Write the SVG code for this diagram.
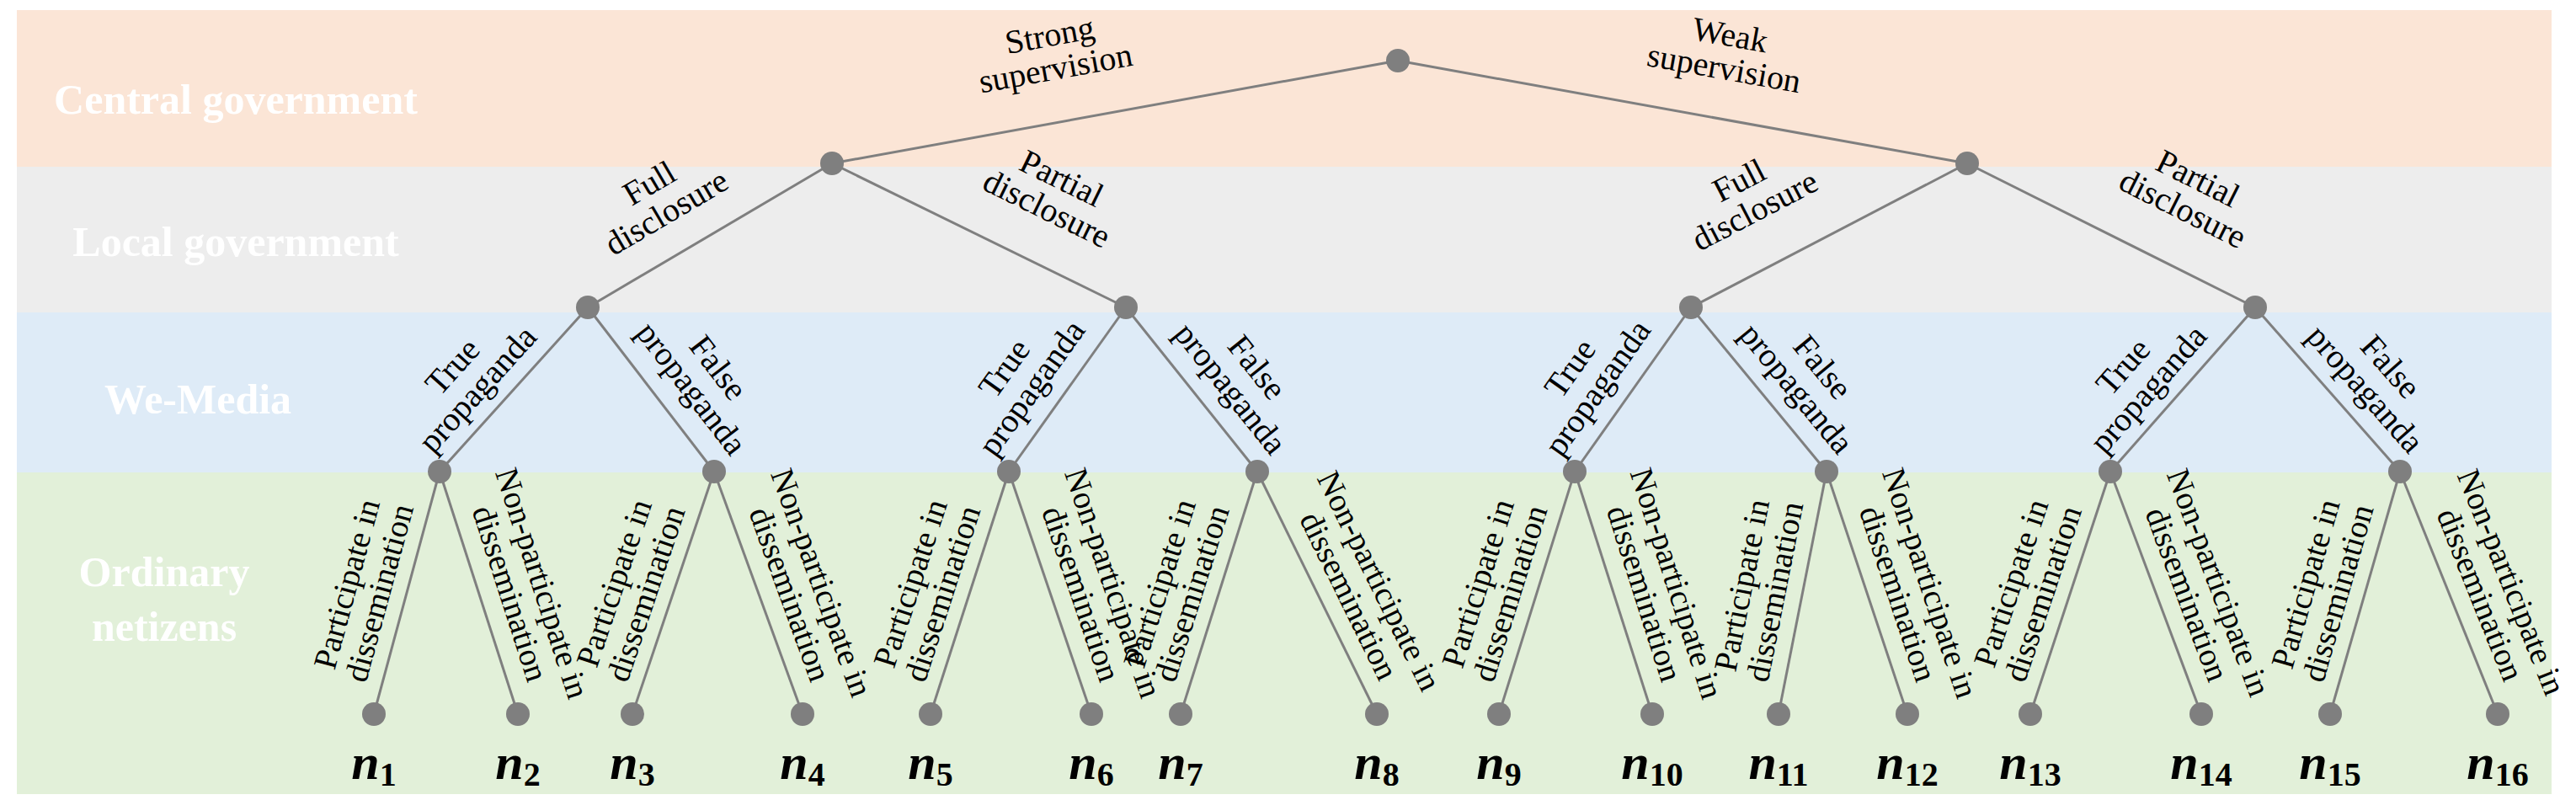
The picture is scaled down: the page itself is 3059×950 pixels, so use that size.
<svg xmlns="http://www.w3.org/2000/svg" width="3059" height="950" viewBox="0 0 3059 950" font-family="'Liberation Serif','Times New Roman','DejaVu Serif',serif">
<style>
text{font-family:'Liberation Serif','Times New Roman','DejaVu Serif',serif}
.band{font-weight:bold;font-size:50px;fill:#fff;text-anchor:middle}
.el{font-size:40px;fill:#000;text-anchor:middle}
.ll{font-size:39px;fill:#000;text-anchor:middle}
.nl{font-size:60px;font-weight:bold;font-style:italic;fill:#000;text-anchor:middle}
.nl tspan{font-size:40px;font-style:normal}
line{stroke:#7f7f7f;stroke-width:3}
circle{fill:#7f7f7f}
</style>
<rect width="3059" height="950" fill="#fff"/>
<g id="bands">
<rect x="20" y="12" width="3010" height="186" fill="#FBE5D6"/>
<rect x="20" y="198" width="3010" height="173" fill="#EDEDED"/>
<rect x="20" y="371" width="3010" height="190" fill="#DEEBF7"/>
<rect x="20" y="561" width="3010" height="382" fill="#E2F0D9"/>
<text class="band" x="280" y="135">Central government</text>
<text class="band" x="280" y="304">Local government</text>
<text class="band" x="235" y="491">We-Media</text>
<text class="band" x="195" y="696">Ordinary</text>
<text class="band" x="195" y="761">netizens</text>
</g>
<g id="connectors">
<line x1="1660" y1="72" x2="988" y2="194"/><line x1="1660" y1="72" x2="2336" y2="194"/>
<line x1="988" y1="194" x2="698" y2="365"/><line x1="988" y1="194" x2="1337" y2="365"/>
<line x1="2336" y1="194" x2="2008" y2="365"/><line x1="2336" y1="194" x2="2678" y2="365"/>
<line x1="698" y1="365" x2="522" y2="560"/><line x1="698" y1="365" x2="848" y2="560"/>
<line x1="1337" y1="365" x2="1198" y2="560"/><line x1="1337" y1="365" x2="1493" y2="560"/>
<line x1="2008" y1="365" x2="1870" y2="560"/><line x1="2008" y1="365" x2="2169" y2="560"/>
<line x1="2678" y1="365" x2="2506" y2="560"/><line x1="2678" y1="365" x2="2850" y2="560"/>
<line x1="522" y1="560" x2="444" y2="848"/><line x1="522" y1="560" x2="615" y2="848"/>
<line x1="848" y1="560" x2="751" y2="848"/><line x1="848" y1="560" x2="953" y2="848"/>
<line x1="1198" y1="560" x2="1105" y2="848"/><line x1="1198" y1="560" x2="1296" y2="848"/>
<line x1="1493" y1="560" x2="1402" y2="848"/><line x1="1493" y1="560" x2="1635" y2="848"/>
<line x1="1870" y1="560" x2="1780" y2="848"/><line x1="1870" y1="560" x2="1962" y2="848"/>
<line x1="2169" y1="560" x2="2112" y2="848"/><line x1="2169" y1="560" x2="2265" y2="848"/>
<line x1="2506" y1="560" x2="2411" y2="848"/><line x1="2506" y1="560" x2="2614" y2="848"/>
<line x1="2850" y1="560" x2="2767" y2="848"/><line x1="2850" y1="560" x2="2966" y2="848"/>
</g>
<g id="edge-labels">
<text class="el" transform="translate(1256,94) rotate(-10.3)"><tspan x="0" y="-40">Strong</tspan><tspan x="0" y="0">supervision</tspan></text>
<text class="el" transform="translate(2045,94) rotate(10.2)"><tspan x="0" y="-40">Weak</tspan><tspan x="0" y="0">supervision</tspan></text>
<text class="el" transform="translate(796,260) rotate(-30.5)"><tspan x="0" y="-36">Full</tspan><tspan x="0" y="4">disclosure</tspan></text>
<text class="el" transform="translate(1239,256) rotate(26.1)"><tspan x="0" y="-36">Partial</tspan><tspan x="0" y="4">disclosure</tspan></text>
<text class="el" transform="translate(2088,258) rotate(-27.5)"><tspan x="0" y="-36">Full</tspan><tspan x="0" y="4">disclosure</tspan></text>
<text class="el" transform="translate(2588,256) rotate(26.6)"><tspan x="0" y="-36">Partial</tspan><tspan x="0" y="4">disclosure</tspan></text>
<text class="el" transform="translate(556,452) rotate(-47.9)"><tspan x="0" y="-12">True</tspan><tspan x="0" y="28">propaganda</tspan></text>
<text class="el" transform="translate(833,452) rotate(52.4)"><tspan x="0" y="-12">False</tspan><tspan x="0" y="28">propaganda</tspan></text>
<text class="el" transform="translate(1213,452) rotate(-54.5)"><tspan x="0" y="-12">True</tspan><tspan x="0" y="28">propaganda</tspan></text>
<text class="el" transform="translate(1473,452) rotate(51.3)"><tspan x="0" y="-12">False</tspan><tspan x="0" y="28">propaganda</tspan></text>
<text class="el" transform="translate(1885,452) rotate(-54.7)"><tspan x="0" y="-12">True</tspan><tspan x="0" y="28">propaganda</tspan></text>
<text class="el" transform="translate(2145,452) rotate(50.5)"><tspan x="0" y="-12">False</tspan><tspan x="0" y="28">propaganda</tspan></text>
<text class="el" transform="translate(2540,452) rotate(-48.6)"><tspan x="0" y="-12">True</tspan><tspan x="0" y="28">propaganda</tspan></text>
<text class="el" transform="translate(2820,452) rotate(48.6)"><tspan x="0" y="-12">False</tspan><tspan x="0" y="28">propaganda</tspan></text>
</g>
<g id="leaf-labels">
<text class="ll" transform="translate(432,699) rotate(-74.8)"><tspan x="0" y="-8">Participate in</tspan><tspan x="0" y="32">dissemination</tspan></text>
<text class="ll" transform="translate(624,699) rotate(72.1)"><tspan x="0" y="-8">Non-participate in</tspan><tspan x="0" y="32">dissemination</tspan></text>
<text class="ll" transform="translate(749,699) rotate(-71.4)"><tspan x="0" y="-8">Participate in</tspan><tspan x="0" y="32">dissemination</tspan></text>
<text class="ll" transform="translate(956,699) rotate(70)"><tspan x="0" y="-8">Non-participate in</tspan><tspan x="0" y="32">dissemination</tspan></text>
<text class="ll" transform="translate(1101,699) rotate(-72.1)"><tspan x="0" y="-8">Participate in</tspan><tspan x="0" y="32">dissemination</tspan></text>
<text class="ll" transform="translate(1302,699) rotate(71.2)"><tspan x="0" y="-8">Non-participate in</tspan><tspan x="0" y="32">dissemination</tspan></text>
<text class="ll" transform="translate(1397,699) rotate(-72.5)"><tspan x="0" y="-8">Participate in</tspan><tspan x="0" y="32">dissemination</tspan></text>
<text class="ll" transform="translate(1619,699) rotate(63.8)"><tspan x="0" y="-8">Non-participate in</tspan><tspan x="0" y="32">dissemination</tspan></text>
<text class="ll" transform="translate(1775,699) rotate(-72.6)"><tspan x="0" y="-8">Participate in</tspan><tspan x="0" y="32">dissemination</tspan></text>
<text class="ll" transform="translate(1971,699) rotate(72.3)"><tspan x="0" y="-8">Non-participate in</tspan><tspan x="0" y="32">dissemination</tspan></text>
<text class="ll" transform="translate(2089,699) rotate(-78.8)"><tspan x="0" y="-8">Participate in</tspan><tspan x="0" y="32">dissemination</tspan></text>
<text class="ll" transform="translate(2272,699) rotate(71.6)"><tspan x="0" y="-8">Non-participate in</tspan><tspan x="0" y="32">dissemination</tspan></text>
<text class="ll" transform="translate(2408,699) rotate(-71.7)"><tspan x="0" y="-8">Participate in</tspan><tspan x="0" y="32">dissemination</tspan></text>
<text class="ll" transform="translate(2615,699) rotate(69.4)"><tspan x="0" y="-8">Non-participate in</tspan><tspan x="0" y="32">dissemination</tspan></text>
<text class="ll" transform="translate(2758,699) rotate(-73.9)"><tspan x="0" y="-8">Participate in</tspan><tspan x="0" y="32">dissemination</tspan></text>
<text class="ll" transform="translate(2963,699) rotate(68.1)"><tspan x="0" y="-8">Non-participate in</tspan><tspan x="0" y="32">dissemination</tspan></text>
</g>
<g id="nodes">
<g id="root"><circle cx="1660" cy="72" r="14"/></g>
<g id="lg1"><circle cx="988" cy="194" r="14"/></g>
<g id="lg2"><circle cx="2336" cy="194" r="14"/></g>
<g id="wm1"><circle cx="698" cy="365" r="14"/></g>
<g id="wm2"><circle cx="1337" cy="365" r="14"/></g>
<g id="wm3"><circle cx="2008" cy="365" r="14"/></g>
<g id="wm4"><circle cx="2678" cy="365" r="14"/></g>
<g id="on1"><circle cx="522" cy="560" r="14"/></g>
<g id="on2"><circle cx="848" cy="560" r="14"/></g>
<g id="on3"><circle cx="1198" cy="560" r="14"/></g>
<g id="on4"><circle cx="1493" cy="560" r="14"/></g>
<g id="on5"><circle cx="1870" cy="560" r="14"/></g>
<g id="on6"><circle cx="2169" cy="560" r="14"/></g>
<g id="on7"><circle cx="2506" cy="560" r="14"/></g>
<g id="on8"><circle cx="2850" cy="560" r="14"/></g>
<g id="n1"><circle cx="444" cy="848" r="14"/><text class="nl" x="444" y="925">n<tspan dy="8">1</tspan></text></g>
<g id="n2"><circle cx="615" cy="848" r="14"/><text class="nl" x="615" y="925">n<tspan dy="8">2</tspan></text></g>
<g id="n3"><circle cx="751" cy="848" r="14"/><text class="nl" x="751" y="925">n<tspan dy="8">3</tspan></text></g>
<g id="n4"><circle cx="953" cy="848" r="14"/><text class="nl" x="953" y="925">n<tspan dy="8">4</tspan></text></g>
<g id="n5"><circle cx="1105" cy="848" r="14"/><text class="nl" x="1105" y="925">n<tspan dy="8">5</tspan></text></g>
<g id="n6"><circle cx="1296" cy="848" r="14"/><text class="nl" x="1296" y="925">n<tspan dy="8">6</tspan></text></g>
<g id="n7"><circle cx="1402" cy="848" r="14"/><text class="nl" x="1402" y="925">n<tspan dy="8">7</tspan></text></g>
<g id="n8"><circle cx="1635" cy="848" r="14"/><text class="nl" x="1635" y="925">n<tspan dy="8">8</tspan></text></g>
<g id="n9"><circle cx="1780" cy="848" r="14"/><text class="nl" x="1780" y="925">n<tspan dy="8">9</tspan></text></g>
<g id="n10"><circle cx="1962" cy="848" r="14"/><text class="nl" x="1962" y="925">n<tspan dy="8">10</tspan></text></g>
<g id="n11"><circle cx="2112" cy="848" r="14"/><text class="nl" x="2112" y="925">n<tspan dy="8">11</tspan></text></g>
<g id="n12"><circle cx="2265" cy="848" r="14"/><text class="nl" x="2265" y="925">n<tspan dy="8">12</tspan></text></g>
<g id="n13"><circle cx="2411" cy="848" r="14"/><text class="nl" x="2411" y="925">n<tspan dy="8">13</tspan></text></g>
<g id="n14"><circle cx="2614" cy="848" r="14"/><text class="nl" x="2614" y="925">n<tspan dy="8">14</tspan></text></g>
<g id="n15"><circle cx="2767" cy="848" r="14"/><text class="nl" x="2767" y="925">n<tspan dy="8">15</tspan></text></g>
<g id="n16"><circle cx="2966" cy="848" r="14"/><text class="nl" x="2966" y="925">n<tspan dy="8">16</tspan></text></g>
</g>
</svg>
